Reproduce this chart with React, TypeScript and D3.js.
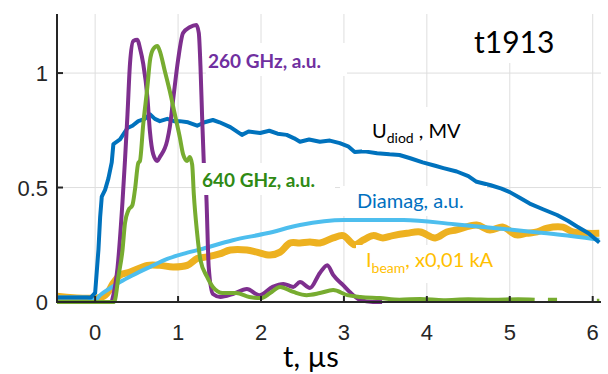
import React from "react";
import * as d3 from "d3";

// ---------- data ----------
const xTicks = [0, 1, 2, 3, 4, 5, 6];
const yTicks = [0, 0.5, 1];
const yTickLabels = ["0", "0.5", "1"];

const udiodT = [-0.46, -0.05, 0.0, 0.04, 0.06, 0.08, 0.12, 0.16, 0.2, 0.22, 0.3, 0.39, 0.45, 0.52, 0.6, 0.66, 0.72, 0.78, 0.87, 0.95, 1.02, 1.12, 1.23, 1.32, 1.42, 1.5, 1.63, 1.77, 1.85, 1.99, 2.1, 2.2, 2.31, 2.4, 2.47, 2.58, 2.71, 2.83, 2.95, 3.05, 3.13, 3.25, 3.4, 3.55, 3.67, 3.8, 3.95, 4.1, 4.2, 4.36, 4.5, 4.6, 4.77, 4.9, 5.0, 5.12, 5.24, 5.4, 5.57, 5.7, 5.81, 5.95, 6.08];
const udiodV = [0.02, 0.02, 0.04, 0.23, 0.37, 0.46, 0.49, 0.54, 0.61, 0.69, 0.71, 0.76, 0.77, 0.79, 0.8, 0.82, 0.8, 0.79, 0.8, 0.79, 0.79, 0.785, 0.77, 0.785, 0.795, 0.785, 0.764, 0.73, 0.745, 0.738, 0.748, 0.735, 0.73, 0.715, 0.70, 0.71, 0.70, 0.705, 0.694, 0.68, 0.655, 0.658, 0.65, 0.645, 0.642, 0.628, 0.61, 0.595, 0.585, 0.57, 0.55, 0.525, 0.51, 0.495, 0.48, 0.455, 0.43, 0.405, 0.38, 0.355, 0.33, 0.30, 0.26];

const diamagT = [-0.46, -0.1, 0.0, 0.06, 0.18, 0.3, 0.46, 0.66, 0.87, 1.06, 1.27, 1.66, 2.07, 2.47, 3.0, 3.72, 4.33, 4.93, 5.53, 6.08];
const diamagV = [0.02, 0.02, 0.008, 0.03, 0.06, 0.087, 0.118, 0.153, 0.188, 0.21, 0.23, 0.27, 0.30, 0.336, 0.358, 0.358, 0.34, 0.319, 0.297, 0.272];

const ibeamT = [-0.46, 0.1, 0.22, 0.3, 0.42, 0.63, 0.78, 0.94, 1.11, 1.23, 1.35, 1.5, 1.63, 1.83, 1.95, 2.11, 2.23, 2.35, 2.47, 2.59, 2.71, 2.87, 2.99, 3.13, 3.23, 3.35, 3.47, 3.59, 3.76, 3.92, 4.1, 4.24, 4.36, 4.6, 4.76, 4.92, 5.08, 5.2, 5.33, 5.45, 5.64, 5.76, 5.93, 6.08];
const ibeamV = [0.025, 0.025, 0.083, 0.118, 0.131, 0.16, 0.16, 0.153, 0.16, 0.19, 0.197, 0.21, 0.227, 0.227, 0.218, 0.205, 0.218, 0.258, 0.258, 0.262, 0.258, 0.28, 0.29, 0.25, 0.27, 0.29, 0.28, 0.29, 0.30, 0.306, 0.28, 0.306, 0.315, 0.336, 0.314, 0.327, 0.293, 0.30, 0.306, 0.323, 0.327, 0.306, 0.30, 0.30];

const ghz260T = [0.2, 0.27, 0.33, 0.36, 0.39, 0.42, 0.46, 0.51, 0.54, 0.58, 0.63, 0.66, 0.7, 0.75, 0.78, 0.87, 0.9, 0.94, 1.0, 1.06, 1.14, 1.22, 1.25, 1.27, 1.29, 1.31, 1.34, 1.37, 1.42, 1.51, 1.66, 1.83, 1.98, 2.14, 2.27, 2.39, 2.47, 2.59, 2.71, 2.8, 2.87, 2.99, 3.07, 3.19, 3.35, 3.46];
const ghz260V = [0.0, 0.15, 0.44, 0.62, 0.82, 1.04, 1.14, 1.145, 1.11, 1.04, 0.895, 0.747, 0.646, 0.616, 0.633, 0.707, 0.764, 0.882, 1.057, 1.175, 1.2, 1.21, 1.175, 1.03, 0.81, 0.61, 0.47, 0.15, 0.035, 0.022, 0.035, 0.057, 0.03, 0.066, 0.079, 0.066, 0.087, 0.061, 0.127, 0.161, 0.118, 0.074, 0.044, 0.01, 0.0, 0.0];

const ghz640T = [-0.46, 0.22, 0.24, 0.28, 0.33, 0.36, 0.4, 0.45, 0.48, 0.52, 0.54, 0.58, 0.63, 0.66, 0.7, 0.75, 0.78, 0.84, 0.9, 0.96, 1.02, 1.06, 1.11, 1.14, 1.17, 1.19, 1.23, 1.27, 1.35, 1.42, 1.54, 1.7, 1.86, 2.0, 2.11, 2.23, 2.39, 2.55, 2.71, 2.87, 3.04, 3.2, 3.43, 3.67, 3.92, 4.2, 4.5, 4.8, 5.1, 5.3, 5.31, 5.46, 5.57, 5.58, 6.05, 6.08];
const ghz640V = [0.0, 0.0, 0.01, 0.11, 0.227, 0.345, 0.4, 0.424, 0.49, 0.607, 0.616, 0.777, 0.94, 1.052, 1.105, 1.118, 1.096, 1.009, 0.921, 0.821, 0.721, 0.646, 0.616, 0.633, 0.6, 0.47, 0.3, 0.183, 0.11, 0.066, 0.039, 0.039, 0.022, 0.017, 0.039, 0.066, 0.044, 0.03, 0.039, 0.052, 0.03, 0.022, 0.017, 0.01, 0.013, 0.008, 0.012, 0.01, 0.012, 0.01, NaN, 0.01, 0.01, NaN, 0.005, 0.005];

// ---------- layout ----------
const W = 608, H = 374;
const x = d3.scaleLinear().domain([-0.46, 6.1]).range([57, 601]);
const y = d3.scaleLinear().domain([0, 1.258]).range([302, 14]);

const LBL = "Lato, 'Open Sans', sans-serif";
const TICK = "'Liberation Sans', Arial, sans-serif";

function path(ts: number[], vs: number[], curve: d3.CurveFactory) {
  const pts = ts.map((t, i) => [t, vs[i]] as [number, number]);
  return d3
    .line<[number, number]>()
    .defined((d) => !isNaN(d[1]))
    .x((d) => x(d[0]))
    .y((d) => y(d[1]))
    .curve(curve)(pts) as string;
}

export default function App() {
  return (
    <svg width={W} height={H} style={{ position: "absolute", left: 0, top: 0, background: "#fff" }}>
      {/* grid */}
      {xTicks.map((t) => (
        <line key={"gx" + t} x1={x(t)} x2={x(t)} y1={14} y2={302} stroke="#dedede" strokeWidth={1} />
      ))}
      {yTicks.slice(1).map((v) => (
        <line key={"gy" + v} x1={57} x2={601} y1={y(v)} y2={y(v)} stroke="#dedede" strokeWidth={1} />
      ))}

      {/* curves */}
      <path d={path(ibeamT, ibeamV, d3.curveCatmullRom)} fill="none" stroke="#EDB120" strokeWidth={7} strokeLinejoin="round" />
      <path d={path(diamagT, diamagV, d3.curveMonotoneX)} fill="none" stroke="#4DBEEE" strokeWidth={4} strokeLinejoin="round" />
      <path d={path(udiodT, udiodV, d3.curveLinear)} fill="none" stroke="#0072BD" strokeWidth={4} strokeLinejoin="round" />
      <path d={path(ghz260T, ghz260V, d3.curveMonotoneX)} fill="none" stroke="#7E2F8E" strokeWidth={4} strokeLinejoin="round" />
      <path d={path(ghz640T, ghz640V, d3.curveMonotoneX)} fill="none" stroke="#77AC30" strokeWidth={4} strokeLinejoin="round" />

      {/* axes */}
      <line x1={57} x2={57} y1={14} y2={302} stroke="#262626" strokeWidth={2} />
      <line x1={56} x2={601} y1={302} y2={302} stroke="#262626" strokeWidth={2} />
      {xTicks.map((t) => (
        <g key={"xt" + t}>
          <line x1={x(t)} x2={x(t)} y1={302} y2={296} stroke="#262626" strokeWidth={2} />
          <text x={x(t)} y={340} textAnchor="middle" fontFamily={TICK} fontSize={22} fill="#262626">
            {t}
          </text>
        </g>
      ))}
      {yTicks.map((v, i) => (
        <g key={"yt" + v}>
          <line x1={57} x2={63} y1={y(v)} y2={y(v)} stroke="#262626" strokeWidth={2} />
          <text x={48} y={y(v) + 8} textAnchor="end" fontFamily={TICK} fontSize={22} fill="#262626">
            {yTickLabels[i]}
          </text>
        </g>
      ))}
      <text x={311} y={367} textAnchor="middle" fontFamily={LBL} fontSize={29} fill="#000">
        t, µs
      </text>

      {/* labels with white boxes */}
      <rect x={465} y={14} width={125} height={49} fill="#fff" />
      <text x={474} y={53} fontFamily={LBL} fontSize={30} fill="#000">t1913</text>

      <rect x={206} y={43} width={141} height={33} fill="#fff" />
      <text x={208} y={68} fontFamily={LBL} fontSize={19} fontWeight="bold" fill="#7030A0">260 GHz, a.u.</text>

      <rect x={199} y={163} width={136} height={32} fill="#fff" />
      <text x={202} y={187} fontFamily={LBL} fontSize={19} fontWeight="bold" fill="#2F8A14">640 GHz, a.u.</text>

      <rect x={362} y={107} width={113} height={43} fill="#fff" />
      <text x={372} y={138} fontFamily={LBL} fontSize={20} fill="#000">
        U<tspan fontSize={14} dy={5}>diod</tspan><tspan dy={-5}> , MV</tspan>
      </text>

      <rect x={340} y={186} width={147} height={30} fill="#fff" />
      <text x={357} y={208} fontFamily={LBL} fontSize={20} fill="#0070C0">Diamag, a.u.</text>

      <rect x={356} y={245} width={144} height={38} fill="#fff" />
      <text x={366} y={267} fontFamily={LBL} fontSize={20} fill="#FFC000">
        I<tspan fontSize={14} dy={6}>beam</tspan><tspan dy={-6}>, x0,01 kA</tspan>
      </text>
    </svg>
  );
}
